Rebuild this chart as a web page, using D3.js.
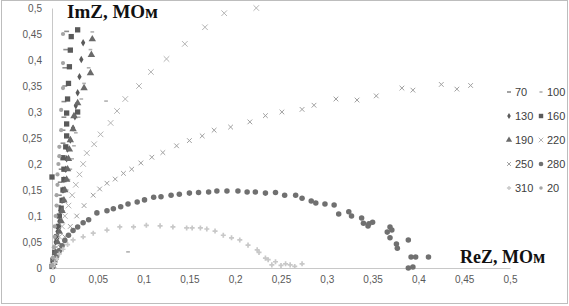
<!DOCTYPE html>
<html><head><meta charset="utf-8">
<script src="https://cdn.jsdelivr.net/npm/d3@7"></script>
<style>body{margin:0;background:#fff}svg{display:block}</style>
</head><body><svg id="c" width="569" height="306"></svg>
<script>
const ticks = [0,0.05,0.1,0.15,0.2,0.25,0.3,0.35,0.4,0.45,0.5];
const s70 = [[0.001,0.005],[0.002,0.02],[0.003,0.04],[0.004,0.06],[0.005,0.08],[0.006,0.1],[0.007,0.12],[0.008,0.14],[0.009,0.165],[0.01,0.19],[0.011,0.215],[0.012,0.24],[0.012,0.265],[0.013,0.29],[0.013,0.32],[0.014,0.35],[0.014,0.385],[0.015,0.42],[0.016,0.455]];
const s100 = [[0.002,0.01],[0.004,0.03],[0.006,0.05],[0.008,0.07],[0.01,0.09],[0.012,0.11],[0.014,0.13],[0.016,0.15],[0.018,0.17],[0.02,0.19],[0.022,0.21],[0.024,0.235],[0.026,0.26],[0.029,0.29],[0.059,0.321],[0.032,0.325],[0.035,0.355],[0.04,0.385],[0.042,0.42],[0.044,0.454],[0.083,0.031]];
const s130 = [[0.001,0.01],[0.003,0.03],[0.004,0.05],[0.006,0.07],[0.008,0.09],[0.009,0.11],[0.011,0.13],[0.012,0.15],[0.013,0.17],[0.015,0.19],[0.016,0.21],[0.017,0.229],[0.02,0.246],[0.023,0.269],[0.025,0.291],[0.026,0.312],[0.028,0.337],[0.03,0.368],[0.032,0.401],[0.034,0.433]];
const s160 = [[0.0,0.003],[0.001,0.015],[0.003,0.03],[0.005,0.06],[0.007,0.08],[0.008,0.1],[0.01,0.115],[0.011,0.13],[0.012,0.15],[0.0,0.175],[0.013,0.17],[0.013,0.19],[0.012,0.212],[0.015,0.233],[0.016,0.254],[0.016,0.277],[0.016,0.298],[0.028,0.3],[0.017,0.325],[0.018,0.355],[0.019,0.387],[0.02,0.419],[0.021,0.445],[0.028,0.458]];
const s190 = [[0.002,0.01],[0.004,0.03],[0.006,0.05],[0.008,0.07],[0.01,0.09],[0.011,0.11],[0.013,0.13],[0.014,0.15],[0.016,0.17],[0.017,0.19],[0.018,0.21],[0.019,0.228],[0.02,0.246],[0.023,0.267],[0.024,0.292],[0.028,0.317],[0.035,0.346],[0.042,0.375],[0.043,0.41],[0.044,0.44]];
const s220 = [[0.001,0.005],[0.003,0.02],[0.005,0.04],[0.008,0.06],[0.011,0.08],[0.014,0.1],[0.018,0.12],[0.022,0.14],[0.026,0.16],[0.03,0.18],[0.034,0.2],[0.038,0.221],[0.046,0.238],[0.053,0.257],[0.064,0.279],[0.071,0.302],[0.08,0.325],[0.095,0.35],[0.108,0.377],[0.125,0.402],[0.145,0.431],[0.167,0.463],[0.188,0.49],[0.223,0.5]];
const s250 = [[0.002,0.005],[0.005,0.02],[0.009,0.04],[0.014,0.06],[0.02,0.08],[0.027,0.1],[0.035,0.12],[0.045,0.14],[0.052,0.152],[0.06,0.163],[0.069,0.171],[0.078,0.182],[0.087,0.19],[0.097,0.202],[0.109,0.213],[0.121,0.222],[0.136,0.235],[0.15,0.245],[0.164,0.254],[0.177,0.265],[0.195,0.271],[0.216,0.281],[0.233,0.293],[0.251,0.3],[0.273,0.305],[0.286,0.313],[0.31,0.325],[0.333,0.323],[0.354,0.331],[0.382,0.346],[0.394,0.342],[0.425,0.353],[0.442,0.344],[0.457,0.351]];
const s280 = [[0.001,0.003],[0.003,0.012],[0.005,0.022],[0.008,0.033],[0.011,0.043],[0.014,0.053],[0.018,0.063],[0.023,0.072],[0.028,0.079],[0.034,0.087],[0.04,0.093],[0.049,0.106],[0.06,0.11],[0.067,0.114],[0.075,0.118],[0.083,0.123],[0.093,0.127],[0.101,0.131],[0.111,0.136],[0.119,0.137],[0.13,0.14],[0.139,0.142],[0.15,0.144],[0.16,0.145],[0.171,0.146],[0.18,0.148],[0.191,0.148],[0.203,0.148],[0.213,0.146],[0.222,0.146],[0.233,0.144],[0.244,0.145],[0.254,0.14],[0.266,0.14],[0.273,0.134],[0.283,0.129],[0.288,0.125],[0.298,0.123],[0.308,0.121],[0.313,0.104],[0.324,0.108],[0.327,0.1],[0.338,0.096],[0.34,0.086],[0.345,0.081],[0.346,0.085],[0.35,0.088],[0.366,0.069],[0.369,0.079],[0.371,0.073],[0.369,0.058],[0.376,0.046],[0.377,0.038],[0.389,0.054],[0.392,0.021],[0.397,0.021],[0.411,0.021],[0.389,0.0],[0.394,0.002]];
const s310 = [[0.001,0.003],[0.003,0.01],[0.005,0.018],[0.008,0.027],[0.012,0.036],[0.017,0.045],[0.023,0.054],[0.034,0.06],[0.045,0.067],[0.06,0.073],[0.074,0.079],[0.089,0.079],[0.103,0.082],[0.118,0.081],[0.132,0.079],[0.147,0.077],[0.153,0.077],[0.162,0.077],[0.169,0.075],[0.178,0.071],[0.187,0.063],[0.196,0.058],[0.205,0.054],[0.214,0.044],[0.224,0.035],[0.226,0.03],[0.233,0.019],[0.236,0.016],[0.24,0.006],[0.244,0.012],[0.25,0.005],[0.255,0.008],[0.26,0.006],[0.265,0.003],[0.273,0.008]];
const s20 = [[0.0,0.005],[0.001,0.02],[0.002,0.04],[0.003,0.06],[0.003,0.08],[0.004,0.1],[0.005,0.12],[0.005,0.14],[0.006,0.16],[0.006,0.18],[0.007,0.2],[0.008,0.215],[0.008,0.233],[0.01,0.265],[0.01,0.304],[0.012,0.346],[0.012,0.394],[0.012,0.45]];
const seriesNames = ["70","100","130","160","190","220","250","280","310","20"];
const seriesData = [s70,s100,s130,s160,s190,s220,s250,s280,s310,s20];

const dash = {draw(ctx,size){const w=Math.sqrt(size)*1.3;ctx.moveTo(-w/2,-0.8);ctx.lineTo(w/2,-0.8);ctx.lineTo(w/2,0.8);ctx.lineTo(-w/2,0.8);ctx.closePath();}};
const styles = {
 "70":{type:dash,size:14,fill:"#8c8c8c"},
 "100":{type:dash,size:8,fill:"#b0b0b0"},
 "130":{type:d3.symbolDiamond,size:16,fill:"#5a5a5a"},
 "160":{type:d3.symbolSquare,size:28,fill:"#5a5a5a"},
 "190":{type:d3.symbolTriangle,size:24,fill:"#6a6a6a"},
 "220":{type:d3.symbolTimes,size:22,stroke:"#b4b4b4"},
 "250":{type:d3.symbolTimes,size:16,stroke:"#a0a0a0"},
 "280":{type:d3.symbolCircle,size:24,fill:"#707070"},
 "310":{type:d3.symbolCross,size:14,fill:"#c8c8c8"},
 "20":{type:d3.symbolCircle,size:14,fill:"#a4a4a4"}
};

const svg = d3.select("#c");
svg.append("rect").attr("x",1.5).attr("y",0.5).attr("width",566).attr("height",303).attr("fill","#fff").attr("stroke","#bdbdbd");
const x = d3.scaleLinear().domain([0,0.5]).range([52,510]);
const y = d3.scaleLinear().domain([0,0.5]).range([268,8]);
const fmt = d => d===0 ? "0" : d3.format(".2~f")(d).replace(".",",");

const ya = svg.append("g").attr("transform","translate(52,0)").call(d3.axisLeft(y).tickValues(ticks).tickSize(0).tickPadding(10).tickFormat(fmt));
const xa = svg.append("g").attr("transform","translate(0,268)").call(d3.axisBottom(x).tickValues(ticks).tickSize(0).tickPadding(8).tickFormat(fmt));
[ya,xa].forEach(g=>{g.select(".domain").attr("stroke","#c8c8c8");g.selectAll("text").attr("fill","#595959").style("font-family","Liberation Sans, Arial, sans-serif").style("font-size","10px");});

const plot = svg.append("g");
seriesNames.forEach((n,i)=>{
  const st = styles[n];
  const sym = d3.symbol().type(st.type).size(st.size);
  plot.append("g").selectAll("path").data(seriesData[i]).join("path")
    .attr("transform",d=>`translate(${x(d[0])},${y(d[1])})`)
    .attr("d",sym)
    .attr("fill",st.fill||"none")
    .attr("stroke",st.stroke||"none")
    .attr("stroke-width",st.stroke?1:0);
});

// legend
const leg = svg.append("g");
seriesNames.forEach((n,i)=>{
  const col=i%2,row=Math.floor(i/2);
  const gx = col===0?509:541, gy = 92+row*24;
  const st = styles[n];
  leg.append("path").attr("transform",`translate(${gx},${gy})`).attr("d",d3.symbol().type(st.type).size(st.size*0.7))
    .attr("fill",st.fill||"none").attr("stroke",st.stroke||"none").attr("stroke-width",st.stroke?1:0);
  leg.append("text").attr("x",gx+6).attr("y",gy+4).text(n).attr("fill","#404040")
    .style("font-family","Liberation Sans, Arial, sans-serif").style("font-size","11px");
});

svg.append("text").attr("x",67).attr("y",18).text("ImZ, МОм").style("font-family","Liberation Serif, Times New Roman, serif").style("font-weight","bold").style("font-size","19px").attr("fill","#111");
svg.append("text").attr("x",460).attr("y",263).text("ReZ, МОм").style("font-family","Liberation Serif, Times New Roman, serif").style("font-weight","bold").style("font-size","18px").attr("fill","#111");
</script></body></html>
